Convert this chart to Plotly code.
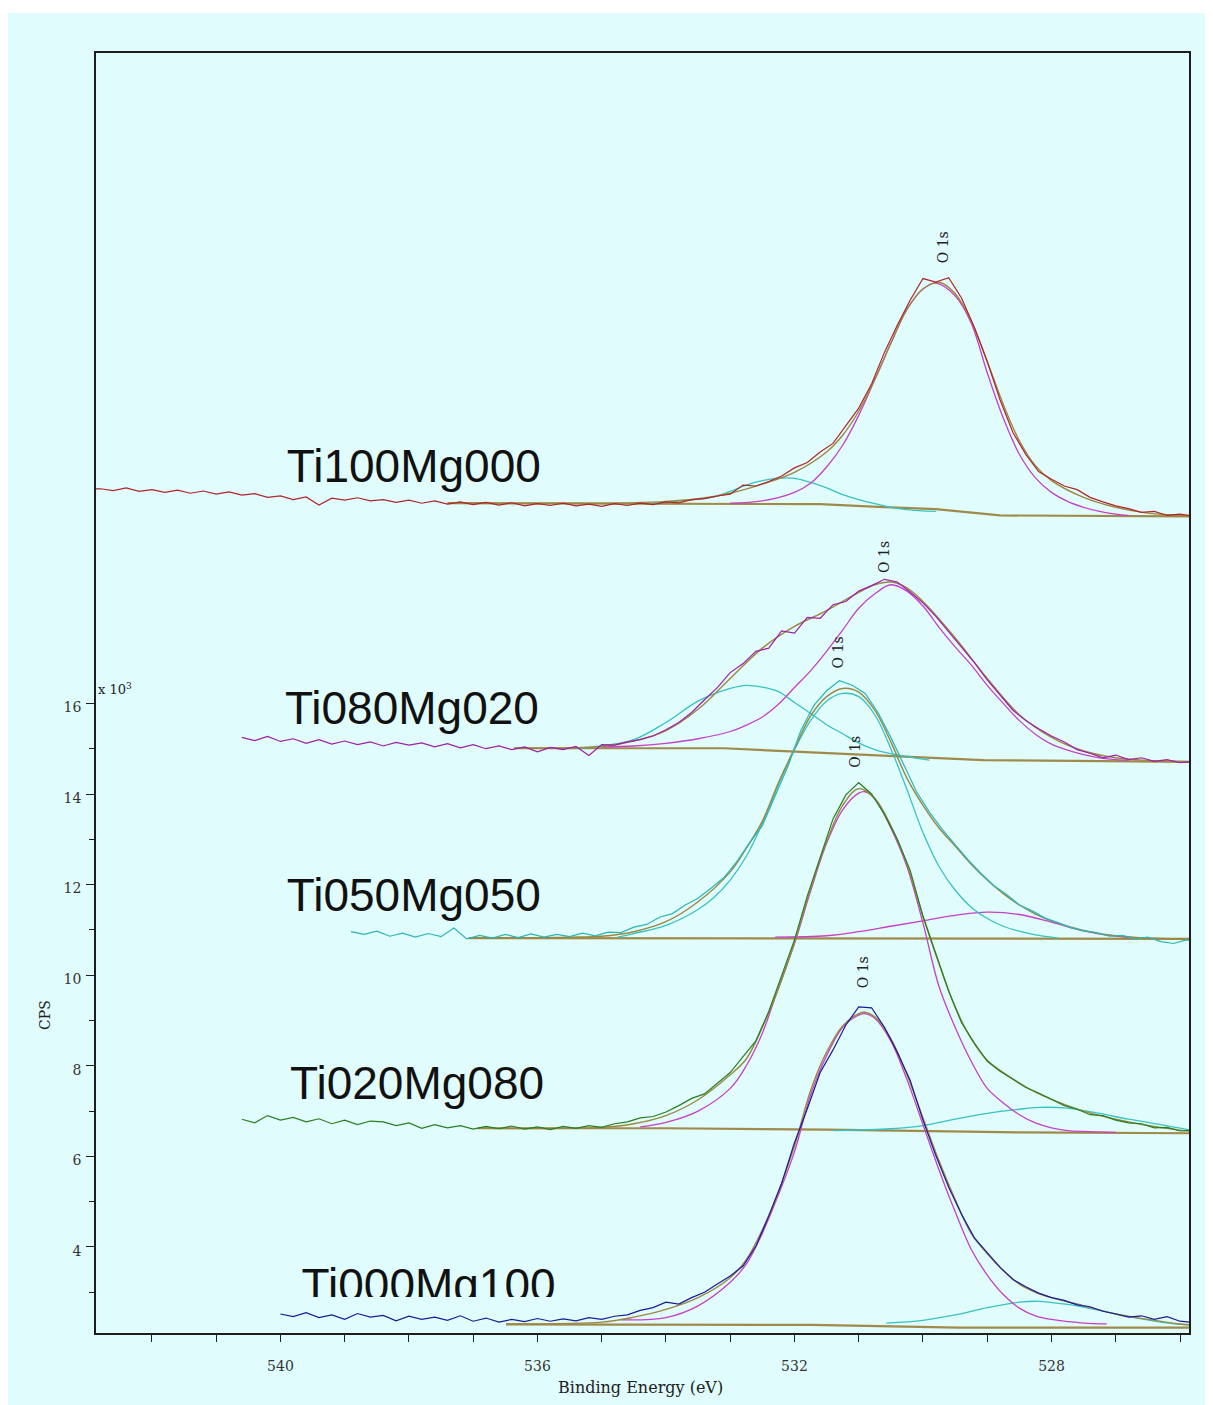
import plotly.graph_objects as go

# ---------------- data: binding energy (eV) and intensity (x10^3 CPS) ----------------
labels = ["Ti100Mg000", "Ti080Mg020", "Ti050Mg050", "Ti020Mg080", "Ti000Mg100"]
label_be = [539.90, 539.93, 539.90, 539.85, 539.67]
label_cps = [21.15, 15.81, 11.66, 7.53, 3.05]
peak_label_be = [529.69, 530.61, 531.32, 531.06, 530.93]
peak_label_cps = [26.07, 19.23, 17.13, 14.93, 10.07]

x_tick_vals = [540, 536, 532, 528]
x_minor_vals = [542, 541, 539, 538, 537, 535, 534, 533, 531, 530, 529, 527, 526]
y_tick_vals = [4, 6, 8, 10, 12, 14, 16]
y_minor_vals = [3, 5, 7, 9, 11, 13, 15]

# --- Ti100Mg000 ---
ti100_raw_be = [542.95, 542.8, 542.6, 542.4, 542.2, 542.0, 541.8, 541.6, 541.4, 541.2,
                541.0, 540.8, 540.6, 540.4, 540.2, 540.0, 539.8, 539.6, 539.4, 539.2,
                539.0, 538.8, 538.6, 538.4, 538.2, 538.0, 537.8, 537.6, 537.4, 537.2,
                537.0, 536.8, 536.6, 536.4, 536.2, 536.0, 535.8, 535.6, 535.4, 535.2,
                535.0, 534.8, 534.6, 534.4, 534.2, 534.0, 533.8, 533.6, 533.4, 533.2,
                533.0, 532.8, 532.6, 532.4, 532.2, 532.0, 531.8, 531.6, 531.4, 531.2,
                531.0, 530.8, 530.6, 530.4, 530.2, 530.0, 529.8, 529.6, 529.4, 529.2,
                529.0, 528.8, 528.6, 528.4, 528.2, 528.0, 527.8, 527.6, 527.4, 527.2,
                527.0, 526.8, 526.6, 526.4, 526.2, 526.0, 525.8]
ti100_raw = [20.73, 20.74, 20.70, 20.76, 20.68, 20.72, 20.66, 20.71, 20.64, 20.69,
             20.62, 20.67, 20.60, 20.63, 20.55, 20.58, 20.50, 20.56, 20.38, 20.53,
             20.49, 20.54, 20.47, 20.50, 20.44, 20.49, 20.42, 20.47, 20.40, 20.45,
             20.39, 20.44, 20.38, 20.43, 20.36, 20.41, 20.37, 20.42, 20.36, 20.40,
             20.35, 20.41, 20.37, 20.42, 20.39, 20.45, 20.43, 20.50, 20.52, 20.58,
             20.62, 20.82, 20.80, 20.90, 21.02, 21.20, 21.32, 21.55, 21.74, 22.12,
             22.52, 23.05, 23.75, 24.35, 24.90, 25.38, 25.30, 25.40, 24.95, 24.30,
             23.55, 22.70, 21.98, 21.50, 21.12, 20.95, 20.80, 20.72, 20.55, 20.45,
             20.36, 20.30, 20.22, 20.24, 20.15, 20.18, 20.14]
ti100_env_be = [537.4, 536.0, 535.0, 534.5, 534.0, 533.5, 533.0, 532.5, 532.0, 531.5,
                531.25, 531.0, 530.75, 530.5, 530.25, 530.0, 529.75, 529.5, 529.25, 529.0,
                528.75, 528.5, 528.25, 528.0, 527.5, 527.0, 526.5, 526.0, 525.8]
ti100_env = [20.42, 20.42, 20.42, 20.43, 20.46, 20.52, 20.64, 20.84, 21.10, 21.55,
             21.92, 22.45, 23.15, 23.95, 24.70, 25.15, 25.30, 25.05, 24.45, 23.55,
             22.60, 21.80, 21.25, 20.92, 20.55, 20.33, 20.20, 20.15, 20.13]
ti100_mag_be = [533.0, 532.5, 532.0, 531.75, 531.5, 531.25, 531.0, 530.75, 530.5, 530.25,
                530.0, 529.8, 529.5, 529.25, 529.0, 528.75, 528.5, 528.25, 528.0, 527.75,
                527.5, 527.25, 527.0, 526.8]
ti100_mag = [20.42, 20.47, 20.66, 20.86, 21.22, 21.70, 22.36, 23.15, 23.95, 24.70,
             25.15, 25.28, 25.00, 24.40, 23.30, 22.30, 21.50, 20.98, 20.66, 20.46,
             20.33, 20.24, 20.18, 20.15]
ti100_cyan_be = [534.2, 533.75, 533.25, 533.0, 532.75, 532.5, 532.25, 532.0, 531.75, 531.5,
                 531.25, 531.0, 530.75, 530.5, 530.25, 530.0, 529.8]
ti100_cyan = [20.42, 20.47, 20.56, 20.68, 20.82, 20.92, 20.97, 20.97, 20.88, 20.76,
              20.61, 20.50, 20.41, 20.33, 20.28, 20.25, 20.24]
ti100_bg_be = [537.4, 531.6, 530.7, 529.8, 528.8, 525.8]
ti100_bg = [20.42, 20.40, 20.34, 20.29, 20.15, 20.13]

# --- Ti080Mg020 ---
ti080_raw_be = [540.6, 540.4, 540.2, 540.0, 539.8, 539.6, 539.4, 539.2, 539.0, 538.8,
                538.6, 538.4, 538.2, 538.0, 537.8, 537.6, 537.4, 537.2, 537.0, 536.8,
                536.6, 536.4, 536.2, 536.0, 535.8, 535.6, 535.4, 535.2, 535.0, 534.8,
                534.6, 534.4, 534.2, 534.0, 533.8, 533.6, 533.4, 533.2, 533.0, 532.8,
                532.6, 532.4, 532.2, 532.0, 531.8, 531.6, 531.4, 531.2, 531.0, 530.8,
                530.6, 530.4, 530.2, 530.0, 529.8, 529.6, 529.4, 529.2, 529.0, 528.8,
                528.6, 528.4, 528.2, 528.0, 527.8, 527.6, 527.4, 527.2, 527.0, 526.8,
                526.6, 526.4, 526.2, 526.0, 525.8]
ti080_raw = [15.25, 15.18, 15.27, 15.16, 15.22, 15.12, 15.20, 15.10, 15.17, 15.09,
             15.15, 15.06, 15.14, 15.08, 15.13, 15.04, 15.11, 15.02, 15.09, 15.00,
             15.06, 14.98, 15.04, 14.93, 15.03, 14.98, 15.05, 14.85, 15.09, 15.08,
             15.15, 15.20, 15.28, 15.42, 15.58, 15.80, 16.08, 16.35, 16.68, 16.88,
             17.15, 17.22, 17.60, 17.55, 17.90, 17.88, 18.18, 18.25, 18.48, 18.60,
             18.74, 18.68, 18.46, 18.22, 17.92, 17.58, 17.25, 16.90, 16.52, 16.18,
             15.85, 15.62, 15.44, 15.28, 15.15, 14.98, 14.90, 14.80, 14.86, 14.76,
             14.80, 14.72, 14.76, 14.69, 14.72]
ti080_env_be = [536.36, 535.5, 535.0, 534.5, 534.0, 533.5, 533.0, 532.5, 532.0, 531.5,
                531.0, 530.75, 530.5, 530.25, 530.0, 529.5, 529.0, 528.5, 528.0, 527.5,
                527.0, 526.5, 526.0, 525.8]
ti080_env = [15.01, 15.02, 15.05, 15.17, 15.40, 15.87, 16.55, 17.22, 17.70, 18.05,
             18.45, 18.62, 18.68, 18.55, 18.25, 17.45, 16.55, 15.75, 15.25, 14.95,
             14.80, 14.74, 14.72, 14.71]
ti080_mag_be = [535.0, 534.5, 534.0, 533.5, 533.0, 532.75, 532.5, 532.25, 532.0, 531.75,
                531.5, 531.25, 531.0, 530.75, 530.5, 530.25, 530.0, 529.75, 529.5, 529.25,
                529.0, 528.75, 528.5, 528.25, 528.0, 527.75, 527.5, 527.25, 527.0, 526.8]
ti080_mag = [15.04, 15.06, 15.12, 15.22, 15.38, 15.52, 15.70, 15.98, 16.35, 16.72,
             17.15, 17.62, 18.10, 18.42, 18.62, 18.48, 18.15, 17.68, 17.25, 16.85,
             16.40, 16.00, 15.62, 15.32, 15.10, 14.97, 14.87, 14.80, 14.76, 14.75]
ti080_cyan_be = [535.4, 535.0, 534.5, 534.0, 533.5, 533.0, 532.75, 532.5, 532.25, 532.0,
                 531.75, 531.5, 531.25, 531.0, 530.75, 530.5, 530.25, 530.0, 529.9]
ti080_cyan = [15.01, 15.06, 15.20, 15.58, 16.05, 16.33, 16.40, 16.36, 16.26, 16.02,
              15.78, 15.53, 15.33, 15.13, 14.98, 14.89, 14.83, 14.77, 14.75]
ti080_bg_be = [536.36, 533.1, 530.2, 529.06, 525.8]
ti080_bg = [15.01, 15.01, 14.82, 14.75, 14.71]

# --- Ti050Mg050 ---
ti050_raw_be = [538.9, 538.7, 538.5, 538.3, 538.1, 537.9, 537.7, 537.5, 537.3, 537.1,
                536.9, 536.7, 536.5, 536.3, 536.1, 535.9, 535.7, 535.5, 535.3, 535.1,
                534.9, 534.7, 534.5, 534.3, 534.1, 533.9, 533.7, 533.5, 533.3, 533.1,
                532.9, 532.7, 532.5, 532.3, 532.1, 531.9, 531.7, 531.5, 531.3, 531.1,
                530.9, 530.7, 530.5, 530.3, 530.1, 529.9, 529.7, 529.5, 529.3, 529.1,
                528.9, 528.7, 528.5, 528.3, 528.1, 527.9, 527.7, 527.5, 527.3, 527.1,
                526.9, 526.7, 526.5, 526.3, 526.1, 525.9, 525.7]
ti050_raw = [10.96, 10.90, 10.97, 10.86, 10.93, 10.84, 10.92, 10.85, 11.04, 10.80,
             10.88, 10.82, 10.90, 10.83, 10.91, 10.84, 10.90, 10.85, 10.93, 10.87,
             10.95, 10.94, 11.06, 11.12, 11.28, 11.36, 11.55, 11.70, 11.92, 12.15,
             12.50, 12.92, 13.30, 13.95, 14.62, 15.40, 15.95, 16.28, 16.50, 16.40,
             16.22, 15.80, 15.25, 14.65, 14.05, 13.60, 13.22, 12.88, 12.55, 12.25,
             11.98, 11.78, 11.55, 11.42, 11.26, 11.16, 11.05, 10.98, 10.94, 10.86,
             10.88, 10.80, 10.84, 10.74, 10.70, 10.78, 10.76]
ti050_env_be = [537.07, 535.5, 535.0, 534.5, 534.0, 533.5, 533.0, 532.75, 532.5, 532.25,
                532.0, 531.75, 531.5, 531.25, 531.0, 530.75, 530.5, 530.25, 530.0, 529.75,
                529.5, 529.25, 529.0, 528.75, 528.5, 528.25, 528.0, 527.5, 527.0, 526.5,
                526.0, 525.7]
ti050_env = [10.82, 10.84, 10.86, 10.96, 11.18, 11.62, 12.28, 12.80, 13.40, 14.25,
             15.00, 15.72, 16.15, 16.33, 16.25, 15.85, 15.15, 14.35, 13.75, 13.25,
             12.85, 12.45, 12.10, 11.80, 11.55, 11.35, 11.20, 10.99, 10.87, 10.82,
             10.80, 10.80]
ti050_cyan_be = [534.75, 534.5, 534.0, 533.5, 533.25, 533.0, 532.75, 532.5, 532.25, 532.0,
                 531.75, 531.5, 531.25, 531.0, 530.75, 530.5, 530.25, 530.0, 529.75, 529.5,
                 529.25, 529.0, 528.75, 528.5, 528.25, 528.0, 527.9]
ti050_cyan = [10.84, 10.92, 11.10, 11.45, 11.72, 12.10, 12.62, 13.35, 14.20, 14.98,
              15.62, 16.05, 16.22, 16.15, 15.75, 15.00, 14.10, 13.15, 12.40, 11.88,
              11.50, 11.25, 11.08, 10.97, 10.89, 10.84, 10.82]
ti050_mag_be = [532.3, 531.5, 531.0, 530.5, 530.0, 529.5, 529.0, 528.5, 528.0, 527.5,
                527.0, 526.7]
ti050_mag = [10.84, 10.87, 10.96, 11.08, 11.20, 11.32, 11.39, 11.34, 11.17, 10.98,
             10.86, 10.82]
ti050_bg_be = [537.07, 525.7]
ti050_bg = [10.82, 10.80]

# --- Ti020Mg080 ---
ti020_raw_be = list(ti080_raw_be)
ti020_raw = [6.82, 6.74, 6.90, 6.80, 6.86, 6.76, 6.83, 6.72, 6.80, 6.70,
             6.78, 6.76, 6.68, 6.74, 6.62, 6.70, 6.63, 6.68, 6.60, 6.66,
             6.61, 6.67, 6.60, 6.65, 6.59, 6.66, 6.62, 6.68, 6.64, 6.72,
             6.76, 6.85, 6.88, 6.98, 7.12, 7.28, 7.38, 7.62, 7.85, 8.20,
             8.55, 9.20, 10.00, 10.78, 11.75, 12.58, 13.45, 13.98, 14.25, 14.00,
             13.55, 13.00, 12.32, 11.30, 10.45, 9.65, 8.95, 8.50, 8.10, 7.88,
             7.70, 7.52, 7.40, 7.26, 7.12, 7.04, 6.92, 6.90, 6.80, 6.74,
             6.72, 6.63, 6.64, 6.56, 6.58]
ti020_env_be = [536.93, 535.0, 534.5, 534.0, 533.5, 533.0, 532.75, 532.5, 532.25, 532.0,
                531.75, 531.5, 531.25, 531.0, 530.75, 530.5, 530.25, 530.0, 529.75, 529.5,
                529.25, 529.0, 528.75, 528.5, 528.25, 528.0, 527.5, 527.0, 526.5, 526.0,
                525.8]
ti020_env = [6.62, 6.64, 6.72, 6.90, 7.25, 7.80, 8.15, 8.85, 9.70, 10.72,
             11.90, 12.95, 13.75, 14.12, 13.90, 13.30, 12.45, 11.30, 10.25, 9.30,
             8.60, 8.12, 7.85, 7.62, 7.42, 7.26, 7.00, 6.82, 6.68, 6.58,
             6.55]
ti020_mag_be = [534.4, 534.0, 533.5, 533.0, 532.75, 532.5, 532.25, 532.0, 531.75, 531.5,
                531.25, 531.0, 530.9, 530.75, 530.5, 530.25, 530.0, 529.75, 529.5, 529.25,
                529.0, 528.75, 528.5, 528.25, 528.0, 527.75, 527.5, 527.0]
ti020_mag = [6.65, 6.75, 7.00, 7.50, 8.00, 8.72, 9.72, 10.70, 11.85, 12.91,
             13.65, 14.02, 14.05, 13.90, 13.25, 12.40, 11.15, 9.75, 8.85, 8.10,
             7.50, 7.18, 6.92, 6.74, 6.63, 6.57, 6.55, 6.53]
ti020_cyan_be = [531.4, 530.5, 530.0, 529.5, 529.0, 528.5, 528.2, 527.8, 527.3, 526.8,
                 526.3, 525.8]
ti020_cyan = [6.57, 6.61, 6.68, 6.82, 6.95, 7.04, 7.08, 7.07, 6.96, 6.82,
              6.70, 6.57]
ti020_bg_be = [536.93, 534.0, 531.5, 529.5, 528.5, 525.8]
ti020_bg = [6.62, 6.62, 6.59, 6.55, 6.53, 6.51]

# --- Ti000Mg100 ---
ti000_raw_be = [540.0, 539.8, 539.6, 539.4, 539.2, 539.0, 538.8, 538.6, 538.4, 538.2,
                538.0, 537.8, 537.6, 537.4, 537.2, 537.0, 536.8, 536.6, 536.4, 536.2,
                536.0, 535.8, 535.6, 535.4, 535.2, 535.0, 534.8, 534.6, 534.4, 534.2,
                534.0, 533.8, 533.6, 533.4, 533.2, 533.0, 532.8, 532.6, 532.4, 532.2,
                532.0, 531.8, 531.6, 531.4, 531.2, 531.0, 530.8, 530.6, 530.4, 530.2,
                530.0, 529.8, 529.6, 529.4, 529.2, 529.0, 528.8, 528.6, 528.4, 528.2,
                528.0, 527.8, 527.6, 527.4, 527.2, 527.0, 526.8, 526.6, 526.4, 526.2,
                526.0, 525.8]
ti000_raw = [2.52, 2.46, 2.55, 2.44, 2.50, 2.40, 2.53, 2.45, 2.49, 2.37,
             2.47, 2.40, 2.45, 2.38, 2.48, 2.36, 2.43, 2.34, 2.40, 2.35,
             2.42, 2.36, 2.41, 2.37, 2.44, 2.40, 2.47, 2.50, 2.60, 2.66,
             2.78, 2.74, 2.88, 3.00, 3.18, 3.36, 3.58, 4.02, 4.68, 5.40,
             6.30, 7.05, 7.85, 8.35, 8.90, 9.30, 9.28, 8.85, 8.30, 7.68,
             6.80, 6.02, 5.32, 4.72, 4.20, 3.88, 3.55, 3.28, 3.12, 2.98,
             2.88, 2.82, 2.72, 2.68, 2.58, 2.52, 2.45, 2.48, 2.40, 2.46,
             2.36, 2.33]
ti000_env_be = [536.49, 535.0, 534.5, 534.0, 533.5, 533.0, 532.75, 532.5, 532.25, 532.0,
                531.75, 531.5, 531.25, 531.0, 530.9, 530.75, 530.5, 530.25, 530.0, 529.75,
                529.5, 529.25, 529.0, 528.75, 528.5, 528.25, 528.0, 527.5, 527.0, 526.5,
                526.0, 525.8]
ti000_env = [2.30, 2.34, 2.45, 2.62, 2.88, 3.32, 3.72, 4.38, 5.22, 6.22,
             7.45, 8.30, 8.88, 9.15, 9.18, 9.08, 8.60, 7.80, 6.85, 5.90,
             5.05, 4.30, 3.85, 3.48, 3.18, 3.00, 2.88, 2.70, 2.52, 2.40,
             2.30, 2.28]
ti000_mag_be = [534.7, 534.0, 533.5, 533.0, 532.75, 532.5, 532.25, 532.0, 531.75, 531.5,
                531.25, 531.0, 530.9, 530.75, 530.5, 530.25, 530.0, 529.75, 529.5, 529.25,
                529.0, 528.75, 528.5, 528.25, 528.0, 527.5, 527.14]
ti000_mag = [2.39, 2.44, 2.70, 3.22, 3.62, 4.30, 5.15, 6.10, 7.35, 8.22,
             8.85, 9.12, 9.15, 9.05, 8.55, 7.70, 6.70, 5.70, 4.78, 3.95,
             3.38, 2.95, 2.65, 2.48, 2.40, 2.32, 2.30]
ti000_cyan_be = [530.57, 530.0, 529.5, 529.0, 528.5, 528.2, 527.75, 527.25, 526.75, 526.25,
                 525.8]
ti000_cyan = [2.32, 2.38, 2.50, 2.66, 2.78, 2.80, 2.73, 2.60, 2.45, 2.33,
              2.27]
ti000_bg_be = [536.49, 531.73, 529.44, 525.8]
ti000_bg = [2.29, 2.28, 2.22, 2.22]

# ---------------- styling ----------------
BG = "#E0FCFC"
C_MAG = "#C640C6"
C_CYAN = "#38C2C2"
C_ENV = "#9A8843"
C_BASE = "#A08A4A"
AX = "#1E1E1E"
SERIF = "DejaVu Serif, Liberation Serif, serif"

spectra = [
    dict(raw=(ti100_raw_be, ti100_raw), raw_color="#B0262A",
         env=(ti100_env_be, ti100_env), bg=(ti100_bg_be, ti100_bg),
         comps=[(ti100_cyan_be, ti100_cyan, C_CYAN), (ti100_mag_be, ti100_mag, C_MAG)]),
    dict(raw=(ti080_raw_be, ti080_raw), raw_color="#A01EA8",
         env=(ti080_env_be, ti080_env), bg=(ti080_bg_be, ti080_bg),
         comps=[(ti080_cyan_be, ti080_cyan, C_CYAN), (ti080_mag_be, ti080_mag, C_MAG)]),
    dict(raw=(ti050_raw_be, ti050_raw), raw_color="#2BB5B5",
         env=(ti050_env_be, ti050_env), bg=(ti050_bg_be, ti050_bg),
         comps=[(ti050_mag_be, ti050_mag, C_MAG), (ti050_cyan_be, ti050_cyan, C_CYAN)]),
    dict(raw=(ti020_raw_be, ti020_raw), raw_color="#2A7E22",
         env=(ti020_env_be, ti020_env), bg=(ti020_bg_be, ti020_bg),
         comps=[(ti020_cyan_be, ti020_cyan, C_CYAN), (ti020_mag_be, ti020_mag, C_MAG)]),
    dict(raw=(ti000_raw_be, ti000_raw), raw_color="#1B1B98",
         env=(ti000_env_be, ti000_env), bg=(ti000_bg_be, ti000_bg),
         comps=[(ti000_cyan_be, ti000_cyan, C_CYAN), (ti000_mag_be, ti000_mag, C_MAG)]),
]

fig = go.Figure()


def add_line(xs, ys, color, width, shape="linear"):
    assert len(xs) == len(ys), (len(xs), len(ys))
    fig.add_trace(go.Scatter(x=xs, y=ys, mode="lines",
                             line=dict(color=color, width=width, shape=shape),
                             hoverinfo="skip", showlegend=False))


for s in spectra:
    add_line(*s["bg"], C_BASE, 2.2)
    for bx, by, col in s["comps"]:
        add_line(bx, by, col, 1.3, "spline")
    add_line(*s["env"], C_ENV, 1.4, "spline")
    add_line(*s["raw"], s["raw_color"], 1.2)

# big sample labels, clipped at the bottom like the original
fig.add_trace(go.Scatter(x=label_be, y=label_cps, mode="text", text=labels,
                         textposition="middle right",
                         textfont=dict(family="Liberation Sans, Arial, sans-serif", size=46, color="#111111"),
                         xaxis="x2", yaxis="y2", cliponaxis=True,
                         hoverinfo="skip", showlegend=False))

for bx, by in zip(peak_label_be, peak_label_cps):
    fig.add_annotation(x=bx, y=by, xref="x", yref="y", text="O 1s", showarrow=False,
                       textangle=-90, font=dict(family=SERIF, size=14, color="#222222"))

# The page adds an 8 px body margin, so the figure is drawn 8 px smaller and
# its margins are 8 px less on the left/top than the reference picture.
X_RANGE = [542.87, 525.86]
fig.update_layout(
    width=1205, height=1397,
    margin=dict(l=88, r=24, t=45, b=72, pad=0),
    paper_bgcolor="white",
    plot_bgcolor="rgba(0,0,0,0)",
    showlegend=False,
    xaxis=dict(range=X_RANGE, tickmode="array", tickvals=x_tick_vals,
               ticktext=[str(v) for v in x_tick_vals],
               ticks="outside", ticklen=7, tickwidth=1.3, tickcolor=AX,
               showline=True, linecolor=AX, linewidth=1.5, mirror=True,
               showgrid=False, zeroline=False, ticklabelstandoff=12,
               tickfont=dict(family=SERIF, size=14, color="#333333"),
               minor=dict(tickmode="array", tickvals=x_minor_vals, ticks="outside",
                          ticklen=7, tickwidth=1.3, tickcolor=AX, showgrid=False)),
    yaxis=dict(range=[2.10, 30.36], tickmode="array", tickvals=y_tick_vals,
               ticktext=[str(v) for v in y_tick_vals],
               ticks="outside", ticklen=8, tickwidth=1.3, tickcolor=AX,
               showline=True, linecolor=AX, linewidth=1.5, mirror=True,
               showgrid=False, zeroline=False, ticklabelstandoff=2, ticklabelshift=4,
               tickfont=dict(family=SERIF, size=14, color="#333333"),
               minor=dict(tickmode="array", tickvals=y_minor_vals, ticks="outside",
                          ticklen=5, tickwidth=1.3, tickcolor=AX, showgrid=False)),
    xaxis2=dict(range=X_RANGE, domain=[0, 1], anchor="y2", visible=False),
    yaxis2=dict(range=[2.894, 30.36], domain=[36 / 1280, 1], anchor="x2", visible=False),
)

# light cyan page (white strip at the top and left edges of the original)
fig.add_shape(type="rect", xref="paper", yref="paper",
              x0=(8 - 96) / 1093, x1=1.05, y0=-0.08, y1=(1333 - 13) / 1280,
              fillcolor=BG, line_width=0, layer="below")

fig.add_annotation(x=(640 - 96) / 1093, y=(1333 - 1387) / 1280, xref="paper", yref="paper",
                   xanchor="center", yanchor="middle",
                   text="Binding Energy (eV)", showarrow=False,
                   font=dict(family=SERIF, size=16, color="#222222"))
fig.add_annotation(x=(45 - 96) / 1093, y=(1333 - 1015) / 1280, xref="paper", yref="paper",
                   xanchor="center", yanchor="middle",
                   text="CPS", showarrow=False, textangle=-90,
                   font=dict(family=SERIF, size=14, color="#222222"))
fig.add_annotation(x=0.0, y=(1333 - 689) / 1280, xref="paper", yref="paper",
                   xanchor="left", yanchor="middle",
                   text="x 10<sup>3</sup>", showarrow=False,
                   font=dict(family=SERIF, size=13, color="#222222"))

fig.write_html("out.html")
